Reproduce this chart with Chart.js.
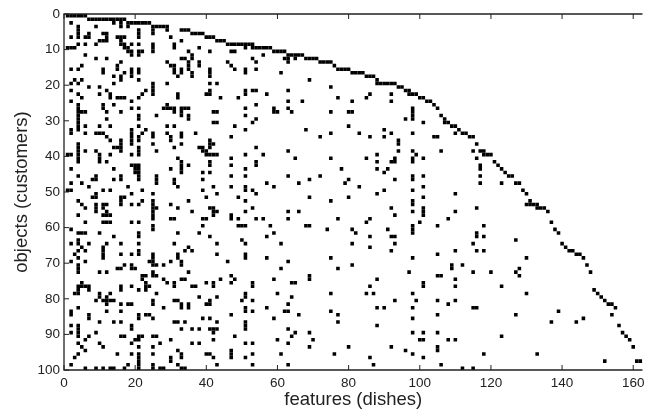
<!DOCTYPE html>
<html>
<head>
<meta charset="utf-8">
<style>
  html, body { margin: 0; padding: 0; background: #fff; }
  #wrap { width: 645px; height: 409px; }
</style>
<script src="https://cdn.jsdelivr.net/npm/chart.js@4/dist/chart.umd.min.js"></script>
</head>
<body>
<div id="wrap"><canvas id="myChart"></canvas></div>
<script>
// one line per customer (row), listing the dishes (columns) that are on
const customerDishes = [
  [1,2,3,4,5,6],
  [7,8,9,10,11,12,13,14,15,16,17],
  [2,14,16,18,19,20,21,22,23,24],
  [4,9,16,18,25,26,27,28,29],
  [4,21,25,29,33,34,35],
  [4,7,11,12,21,25,36,37,38,39],
  [2,4,6,7,12,15,16,17,21,30,40,41,42],
  [10,11,12,16,33,43,44,45],
  [4,6,9,16,17,19,21,25,31,46,47,48,49,50,51,52,53],
  [1,2,3,17,18,25,31,38,51,53,54,55,56,57,58],
  [18,19,21,22,25,35,41,47,48,59,60,61,62],
  [6,19,21,36,56,63,64,65,66,67],
  [9,12,33,34,36,53,62,63,65,68,69,70,71],
  [16,29,35,38,46,54,63,72,73,74,75],
  [5,15,30,31,35,38,47,76],
  [2,4,11,15,19,21,31,33,35,41,48,51,54,77,78,79,80],
  [11,17,19,21,31,33,36,41,51,61,81,82,83,84],
  [14,16,19,32,36,41,85,86,87],
  [3,5,16,21,69,88],
  [2,4,14,25,29,41,43,88,89,90,91,92,93],
  [7,10,25,75,94,95],
  [2,12,23,25,41,51,53,54,63,96,97],
  [4,10,13,22,25,32,40,41,51,57,86,92,97,98,99],
  [5,13,15,16,17,21,32,44,49,77,85,100,101],
  [2,19,63,67,81,92,102,103],
  [4,11,14,29,54,104],
  [4,11,19,21,28,29,30,31,33,34,35,51,59,63,98,105],
  [4,5,6,12,16,31,33,42,43,59,60,64,75,80,81,98],
  [4,21,26,33,35,51,98,106],
  [4,12,21,35,54,96,98,107],
  [4,42,43,53,101,107,108],
  [4,6,10,13,21,29,31,48,80,109,110],
  [2,4,19,23,51,68,90,111],
  [2,6,9,10,11,19,22,25,29,33,37,75,83,92,98,110,112,113],
  [12,19,21,25,30,33,47,72,86,90,104,105,114,115],
  [13,16,19,21,30,41,94],
  [4,16,19,25,33,41,42,94,116],
  [4,14,15,16,21,31,38,39,41,54],
  [4,6,9,16,21,26,39,40,63,94,98,106,115,117,118],
  [1,2,4,10,13,19,21,40,41,42,43,51,56,88,99,118,119,120],
  [4,10,32,47,65,75,85,93,98,101,116],
  [4,10,12,33,41,54,88,92,93,98,121],
  [19,20,21,33,35,41,47,54,117,122],
  [2,14,20,21,30,33,51,78,88,91,117,123],
  [20,21,33,39,41,90,124],
  [4,9,16,21,26,47,51,63,72,98,101,117,125,126],
  [8,9,14,16,21,26,31,39,69,80,93,98],
  [2,5,26,31,57,66,79,117,123,127,128],
  [7,18,32,42,47,51,59,83,101],
  [1,2,11,13,22,39,51,53,90,98,129],
  [9,19,25,43,54,88,110,130],
  [8,9,16,17,40,49,69,80,101],
  [4,16,22,25,35,51,75,98,131],
  [5,9,11,12,16,19,21,25,30,98,130,131,132,133],
  [6,9,11,25,26,32,41,42,53,92,101,116,133,134,135],
  [9,12,25,36,42,43,51,63,66,98,101,110,136],
  [4,11,12,13,25,42,47,93,101],
  [25,30,31,39,40,47,49,54,56,63,77,86,108],
  [6,11,12,13,19,21,85,100,137],
  [25,39,49,50,51,58,68,69,98,105,118],
  [2,25,74,81,91,98,138],
  [4,5,6,10,21,32,38,59,82,98,116,139],
  [14,21,41,57,86,92,93,116,118],
  [4,50,127],
  [2,4,7,12,16,21,31,43,51,61,81,93,115,140],
  [5,11,35,86,141],
  [4,6,11,21,34,36,92,110,116,118,142,143],
  [3,11,16,19,21,25,32,43,51,105,144,145],
  [4,11,25,32,51,57,75,98,130,146],
  [2,6,24,25,30,33,46,63],
  [4,17,19,25,26,28,33,81,109,112,147],
  [4,15,16,19,20,61,77,109,128],
  [4,10,12,25,35,97,115,120,127,148],
  [22,23,25,26,47,69,105,106,128],
  [22,28,33,34,44,48,59,69,88,110],
  [5,23,29,31,40,42,47,53,64,65,101],
  [4,5,6,7,16,19,23,24,31,36,37,42,53,86,101,110,123],
  [4,7,16,21,23,149],
  [3,4,10,13,26,51,60,75,85,87,98,130,150],
  [10,12,38,43,51,64,151],
  [9,11,12,13,14,25,31,32,41,50,53,93,99,105,110,152],
  [12,16,18,19,25,33,35,40,41,63,108,153,154],
  [4,28,33,35,51,57,88,90,98,115,116,155],
  [2,12,16,51,53,62,63,75,139],
  [2,7,21,23,24,47,66,77,105,127,154],
  [7,21,25,39,41,59,98,146],
  [10,14,16,31,32,34,43,51,77,137,144],
  [2,4,19,51,88,156],
  [4,19,33,36,38,41,42,43,51,63],
  [2,4,9,42,65,69,98,101,105,157],
  [4,7,16,17,21,22,25,26,48,64,123,158],
  [6,20,21,30,42,60,70,100,101,108,110,159],
  [4,10,19,27,36,38,51,53,63],
  [5,11,21,25,69,80,92,105,160],
  [6,32,47,96,105],
  [4,15,19,21,25,33,40,41,47,53,61,76,98,118,133],
  [3,21,30,33,42,47,51,86,101],
  [21,30,152,161,162],
  [2,18,21,25,32,43,53,63,87,106],
  [6,9,11,13,14,17,21,25,27,28,33,34,112,115]
];

const xTicks = [0, 20, 40, 60, 80, 100, 120, 140, 160];
const yTicks = [0, 10, 20, 30, 40, 50, 60, 70, 80, 90, 100];

const cells = [];
customerDishes.forEach((dishes, i) => {
  dishes.forEach(d => cells.push({ x: d, y: i + 0.5 }));
});

// box and inward ticks, matlab style
const boxTicks = {
  id: 'boxTicks',
  afterDraw(chart) {
    const c = chart.ctx, a = chart.chartArea;
    const sx = chart.scales.x, sy = chart.scales.y;
    c.save();
    c.strokeStyle = '#222';
    c.lineWidth = 1.3;
    c.beginPath();
    c.moveTo(a.right, a.top); c.lineTo(a.left, a.top);
    c.lineTo(a.left, a.bottom); c.lineTo(a.right, a.bottom);
    c.stroke();
    c.lineWidth = 1;
    c.beginPath();
    xTicks.forEach(t => {
      const p = sx.getPixelForValue(t);
      c.moveTo(p, a.top); c.lineTo(p, a.top + 5);
      c.moveTo(p, a.bottom); c.lineTo(p, a.bottom - 5);
    });
    yTicks.forEach(t => {
      const p = sy.getPixelForValue(t);
      c.moveTo(a.left, p); c.lineTo(a.left + 5, p);
    });
    c.stroke();
    c.restore();
  }
};

const ctx = document.getElementById('myChart');

new Chart(ctx, {
  type: 'scatter',
  data: {
    datasets: [{
      data: cells,
      pointStyle: 'rect',
      pointRadius: 2.52,
      pointHoverRadius: 2.52,
      pointBorderWidth: 0,
      backgroundColor: '#000',
      borderColor: '#000'
    }]
  },
  options: {
    responsive: true,
    maintainAspectRatio: false,
    animation: false,
    layout: { padding: { top: 14, right: 0, bottom: 0, left: 0 } },
    plugins: {
      legend: { display: false },
      tooltip: { enabled: false }
    },
    scales: {
      x: {
        type: 'linear',
        min: 0,
        max: 162.6,
        afterBuildTicks: s => { s.ticks = xTicks.map(v => ({ value: v })); },
        afterFit: s => { s.height = 39; s.paddingRight = 0; s.paddingLeft = 0; },
        grid: { display: false, drawTicks: false, tickLength: 0 },
        border: { display: false },
        ticks: {
          color: '#222', maxRotation: 0, padding: 5,
          font: { family: 'Liberation Sans', size: 13.5 }
        },
        title: {
          display: true, text: 'features (dishes)', color: '#222', padding: 0,
          font: { family: 'Liberation Sans', size: 18.5, lineHeight: 1 }
        }
      },
      y: {
        type: 'linear',
        reverse: true,
        min: 0,
        max: 100,
        afterBuildTicks: s => { s.ticks = yTicks.map(v => ({ value: v })); },
        afterFit: s => { s.width = 64; s.paddingTop = 0; s.paddingBottom = 0; },
        grid: { display: false, drawTicks: false, tickLength: 0 },
        border: { display: false },
        ticks: {
          color: '#222', padding: 4,
          font: { family: 'Liberation Sans', size: 13.5 }
        },
        title: {
          display: true, text: 'objects (customers)', color: '#222', padding: { top: 13, bottom: 0 },
          font: { family: 'Liberation Sans', size: 18.5, lineHeight: 1 }
        }
      }
    }
  },
  plugins: [boxTicks]
});
</script>
</body>
</html>
